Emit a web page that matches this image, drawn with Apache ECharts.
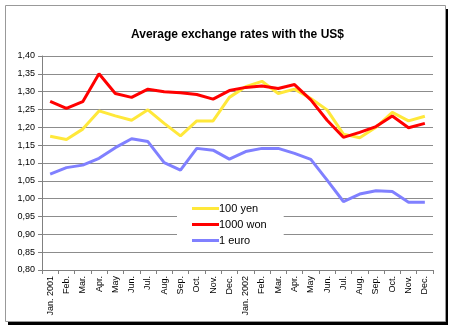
<!DOCTYPE html>
<html>
<head>
<meta charset="utf-8">
<script src="https://cdn.jsdelivr.net/npm/echarts@6/dist/echarts.min.js"></script>
<style>
html,body{margin:0;padding:0;background:#fff;}
#chart{width:452px;height:328px;}
</style>
</head>
<body>
<div id="chart"></div>
<script>
var categories = ['Jan. 2001','Feb.','Mar.','Apr.','May','Jun.','Jul.','Aug.','Sep.','Oct.','Nov.','Dec.',
                  'Jan. 2002','Feb.','Mar.','Apr.','May','Jun.','Jul.','Aug.','Sep.','Oct.','Nov.','Dec.'];
var yen100 = [1.175,1.166,1.195,1.246,1.232,1.220,1.249,1.211,1.176,1.218,1.218,1.284,
              1.314,1.329,1.295,1.307,1.281,1.249,1.181,1.171,1.200,1.242,1.218,1.231];
var won1000 = [1.273,1.253,1.272,1.350,1.295,1.284,1.307,1.300,1.297,1.292,1.279,1.303,
               1.312,1.316,1.309,1.320,1.277,1.220,1.172,1.186,1.202,1.232,1.199,1.211];
var euro1 = [1.069,1.087,1.094,1.113,1.143,1.168,1.160,1.101,1.080,1.141,1.136,1.111,
             1.132,1.141,1.141,1.127,1.110,1.052,0.992,1.013,1.022,1.020,0.990,0.990];
var seriesNames = ['100 yen','1000 won','1 euro'];
var titleText = 'Average exchange rates with the US$';

var chart = echarts.init(document.getElementById('chart'), null, {renderer:'canvas'});
var font = 'Liberation Sans, Arial, sans-serif';
function mk(name, data, color){
  return {name:name, type:'line', data:data, symbol:'none', smooth:false,
          lineStyle:{color:color, width:3}, itemStyle:{color:color}, animation:false};
}
chart.setOption({
  animation:false,
  backgroundColor:'#fff',
  graphic:[
    {type:'rect', shape:{x:8, y:9, width:440, height:316}, style:{fill:'#000'}, z:-10},
    {type:'rect', shape:{x:5.5, y:5.5, width:440, height:316}, style:{fill:'#fff', stroke:'#999', lineWidth:1}, z:-9}
  ],
  title:{text:titleText, left:126, top:24,
         textStyle:{fontFamily:font, fontSize:12, fontWeight:'bold', color:'#000'}},
  grid:{left:42, right:19, top:56, bottom:58},
  legend:{orient:'vertical', left:177, top:201, backgroundColor:'#fff',
          padding:[2,17,2,15], itemGap:5, itemWidth:27, itemHeight:11,
          icon:'path://M0,4 L27,4 L27,7 L0,7 Z',
          textStyle:{fontFamily:font, fontSize:11, color:'#000', padding:[0,0,0,-5]},
          data:seriesNames, z:10},
  xAxis:{type:'category', data:categories, boundaryGap:true,
         axisLine:{lineStyle:{color:'#808080', width:1}},
         axisTick:{show:true, length:4, alignWithLabel:false, lineStyle:{color:'#808080'}},
         axisLabel:{rotate:90, interval:0, fontFamily:font, fontSize:9, color:'#000', margin:6}},
  yAxis:{type:'value', min:0.8, max:1.4, interval:0.05,
         axisLine:{show:true, lineStyle:{color:'#808080'}},
         axisTick:{show:true, length:4, lineStyle:{color:'#808080'}},
         splitLine:{show:true, lineStyle:{color:'#8c8c8c', width:1}},
         axisLabel:{fontFamily:font, fontSize:9, color:'#000', margin:7,
                    formatter:function(v){return v.toFixed(2).replace('.',',');}}},
  series:[mk(seriesNames[0], yen100, '#ffe83a'),
          mk(seriesNames[1], won1000, '#ff0000'),
          mk(seriesNames[2], euro1, '#8080ff')]
});
</script>
</body>
</html>
